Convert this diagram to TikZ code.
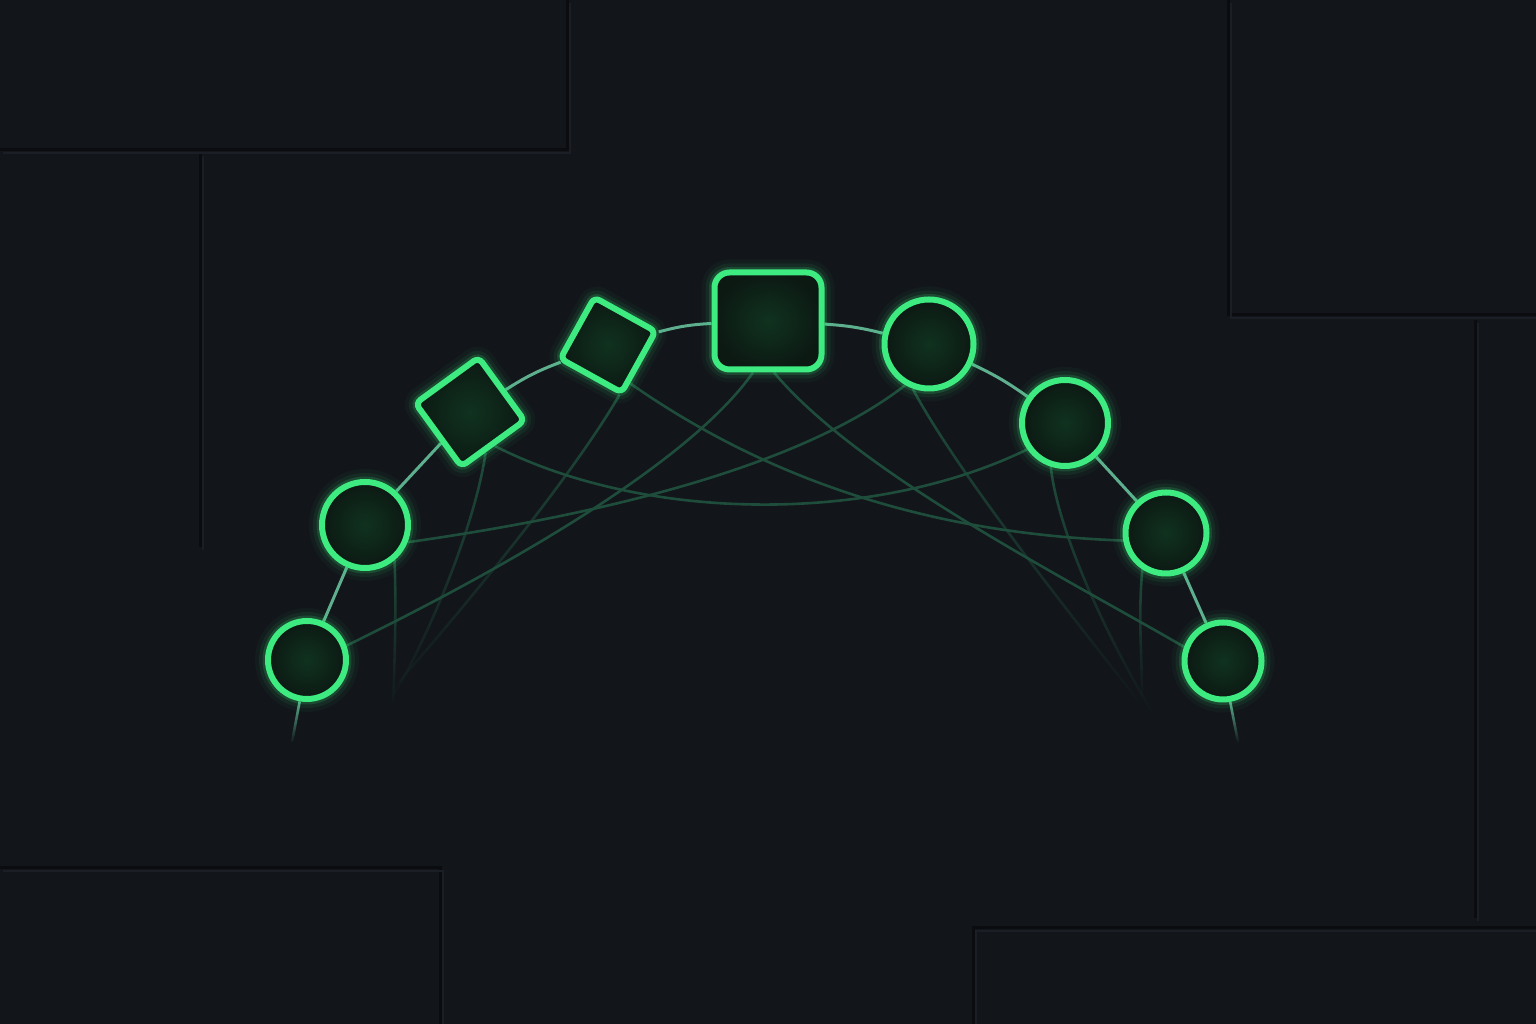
\documentclass[tikz,border=0pt]{standalone}
\usetikzlibrary{fadings,calc}
\definecolor{bgc}{HTML}{12151A}
\definecolor{neon}{HTML}{3DEB80}
\definecolor{arcc}{HTML}{5DAF8E}
\definecolor{webc}{HTML}{1F4D3B}
\definecolor{panl}{HTML}{1B1F25}
\definecolor{pand}{HTML}{0A0C0F}
\definecolor{fillin}{HTML}{10321F}
\definecolor{fillout}{HTML}{0C1913}
\pgfdeclarelayer{back}
\pgfdeclarelayer{web}
\pgfsetlayers{back,web,main}
\tikzfading[name=tailfade, top color=transparent!0, middle color=transparent!25, bottom color=transparent!100]
\newcommand{\panellines}{%
  \draw (0,874) -- (567,874) -- (567,1024);
  \draw (200,871) -- (200,477);
  \draw (1228,1024) -- (1228,709) -- (1536,709);
  \draw (1475,704) -- (1475,106);
  \draw (973,0) -- (973,96) -- (1536,96);
  \draw (0,156) -- (440,156) -- (440,0);
}
\begin{document}
\begin{tikzpicture}[x=1pt,y=1pt,
  glow/.style={
    preaction={draw=neon, line width=26pt, opacity=0.04},
    preaction={draw=neon, line width=18pt, opacity=0.07},
    preaction={draw=neon, line width=11pt, opacity=0.16}},
  nodebase/.style={glow, draw=neon, line width=6pt, inner color=fillin, outer color=fillout, inner sep=0pt},
  circnode/.style={nodebase, circle, minimum size=#1},
  sqnode/.style={nodebase, rectangle, rounded corners=6pt, minimum size=#1},
  arcline/.style={draw=arcc, line width=3pt},
  webline/.style={draw=webc, line width=2.6pt},
  tailline/.style={draw=webc, line width=2.6pt, path fading=tailfade},
  stubline/.style={draw=arcc, line width=2.6pt, path fading=tailfade}]
\useasboundingbox (0,0) rectangle (1536,1024);
\begin{pgfonlayer}{back}
  \fill[bgc] (0,0) rectangle (1536,1024);
  \begin{scope}[draw=pand, line width=3pt] \panellines \end{scope}
  \begin{scope}[draw=panl, line width=1.6pt, shift={(3,-3)}] \panellines \end{scope}
\end{pgfonlayer}

% nodes
\node[circnode=78] (n1) at (307,364) {};
\node[circnode=86] (n2) at (365,499) {};
\node[sqnode=78, rotate=36] (n3) at (470,612) {};
\node[sqnode=70, rotate=61] (n4) at (608,679) {};
\node[nodebase, rectangle, rounded corners=15pt, minimum width=107, minimum height=97] (n5) at (768,703) {};
\node[circnode=89] (n6) at (929,680) {};
\node[circnode=86] (n7) at (1065,601) {};
\node[circnode=81] (n8) at (1166,491) {};
\node[circnode=77] (n9) at (1223,363) {};

\coordinate (e2) at (393,317);
\coordinate (e3) at (387,318);
\coordinate (e4) at (380,321);
\coordinate (e6) at (1148,311);
\coordinate (e7) at (1157,304);
\coordinate (e8) at (1142,324);
\coordinate (s1) at (292,282);
\coordinate (s9) at (1238,282);

\begin{pgfonlayer}{web}
  % web of cross curves
  \draw[webline] (n1.20) .. controls +(26:160) and +(235:115) .. ([xshift=-15pt]n5.south);
  \draw[webline] (n2.-22) .. controls +(8:200) and +(218:130) .. (n6.240);
  \draw[webline] (n3.south) .. controls +(-27:170) and +(206:170) .. (n7.215);
  \draw[webline] (n4.-121) .. controls +(-35:180) and +(178:180) .. (n8.190);
  \draw[webline] ([xshift=6pt]n5.south) .. controls +(-50:130) and +(150:150) .. (n9.160);
  % fading tails
  \draw[tailline] (n2.-50) .. controls +(-88:50) and +(88:50) .. (e2);
  \draw[tailline] (n3.-105) .. controls +(262:70) and +(58:80) .. (e3);
  \draw[tailline] (n4.-138) .. controls +(240:100) and +(48:100) .. (e4);
  \draw[tailline] (n6.250) .. controls +(-62:100) and +(128:100) .. (e6);
  \draw[tailline] (n7.252) .. controls +(-84:70) and +(122:80) .. (e7);
  \draw[tailline] (n8.237) .. controls +(-95:50) and +(90:50) .. (e8);
  \draw[stubline] (n1.-100) -- (s1);
  \draw[stubline] (n9.-80) -- (s9);
  % arc connectors
  \draw[arcline] (n1) -- (n2);
  \draw[arcline] (n2) -- (n3);
  \draw[arcline] (n3) to[bend left=6] (n4);
  \draw[arcline] (n4) to[bend left=6] (n5);
  \draw[arcline] (n5) to[bend left=5] (n6);
  \draw[arcline] (n6) to[bend left=5] (n7);
  \draw[arcline] (n7) -- (n8);
  \draw[arcline] (n8) -- (n9);
\end{pgfonlayer}
\end{tikzpicture}
\end{document}
